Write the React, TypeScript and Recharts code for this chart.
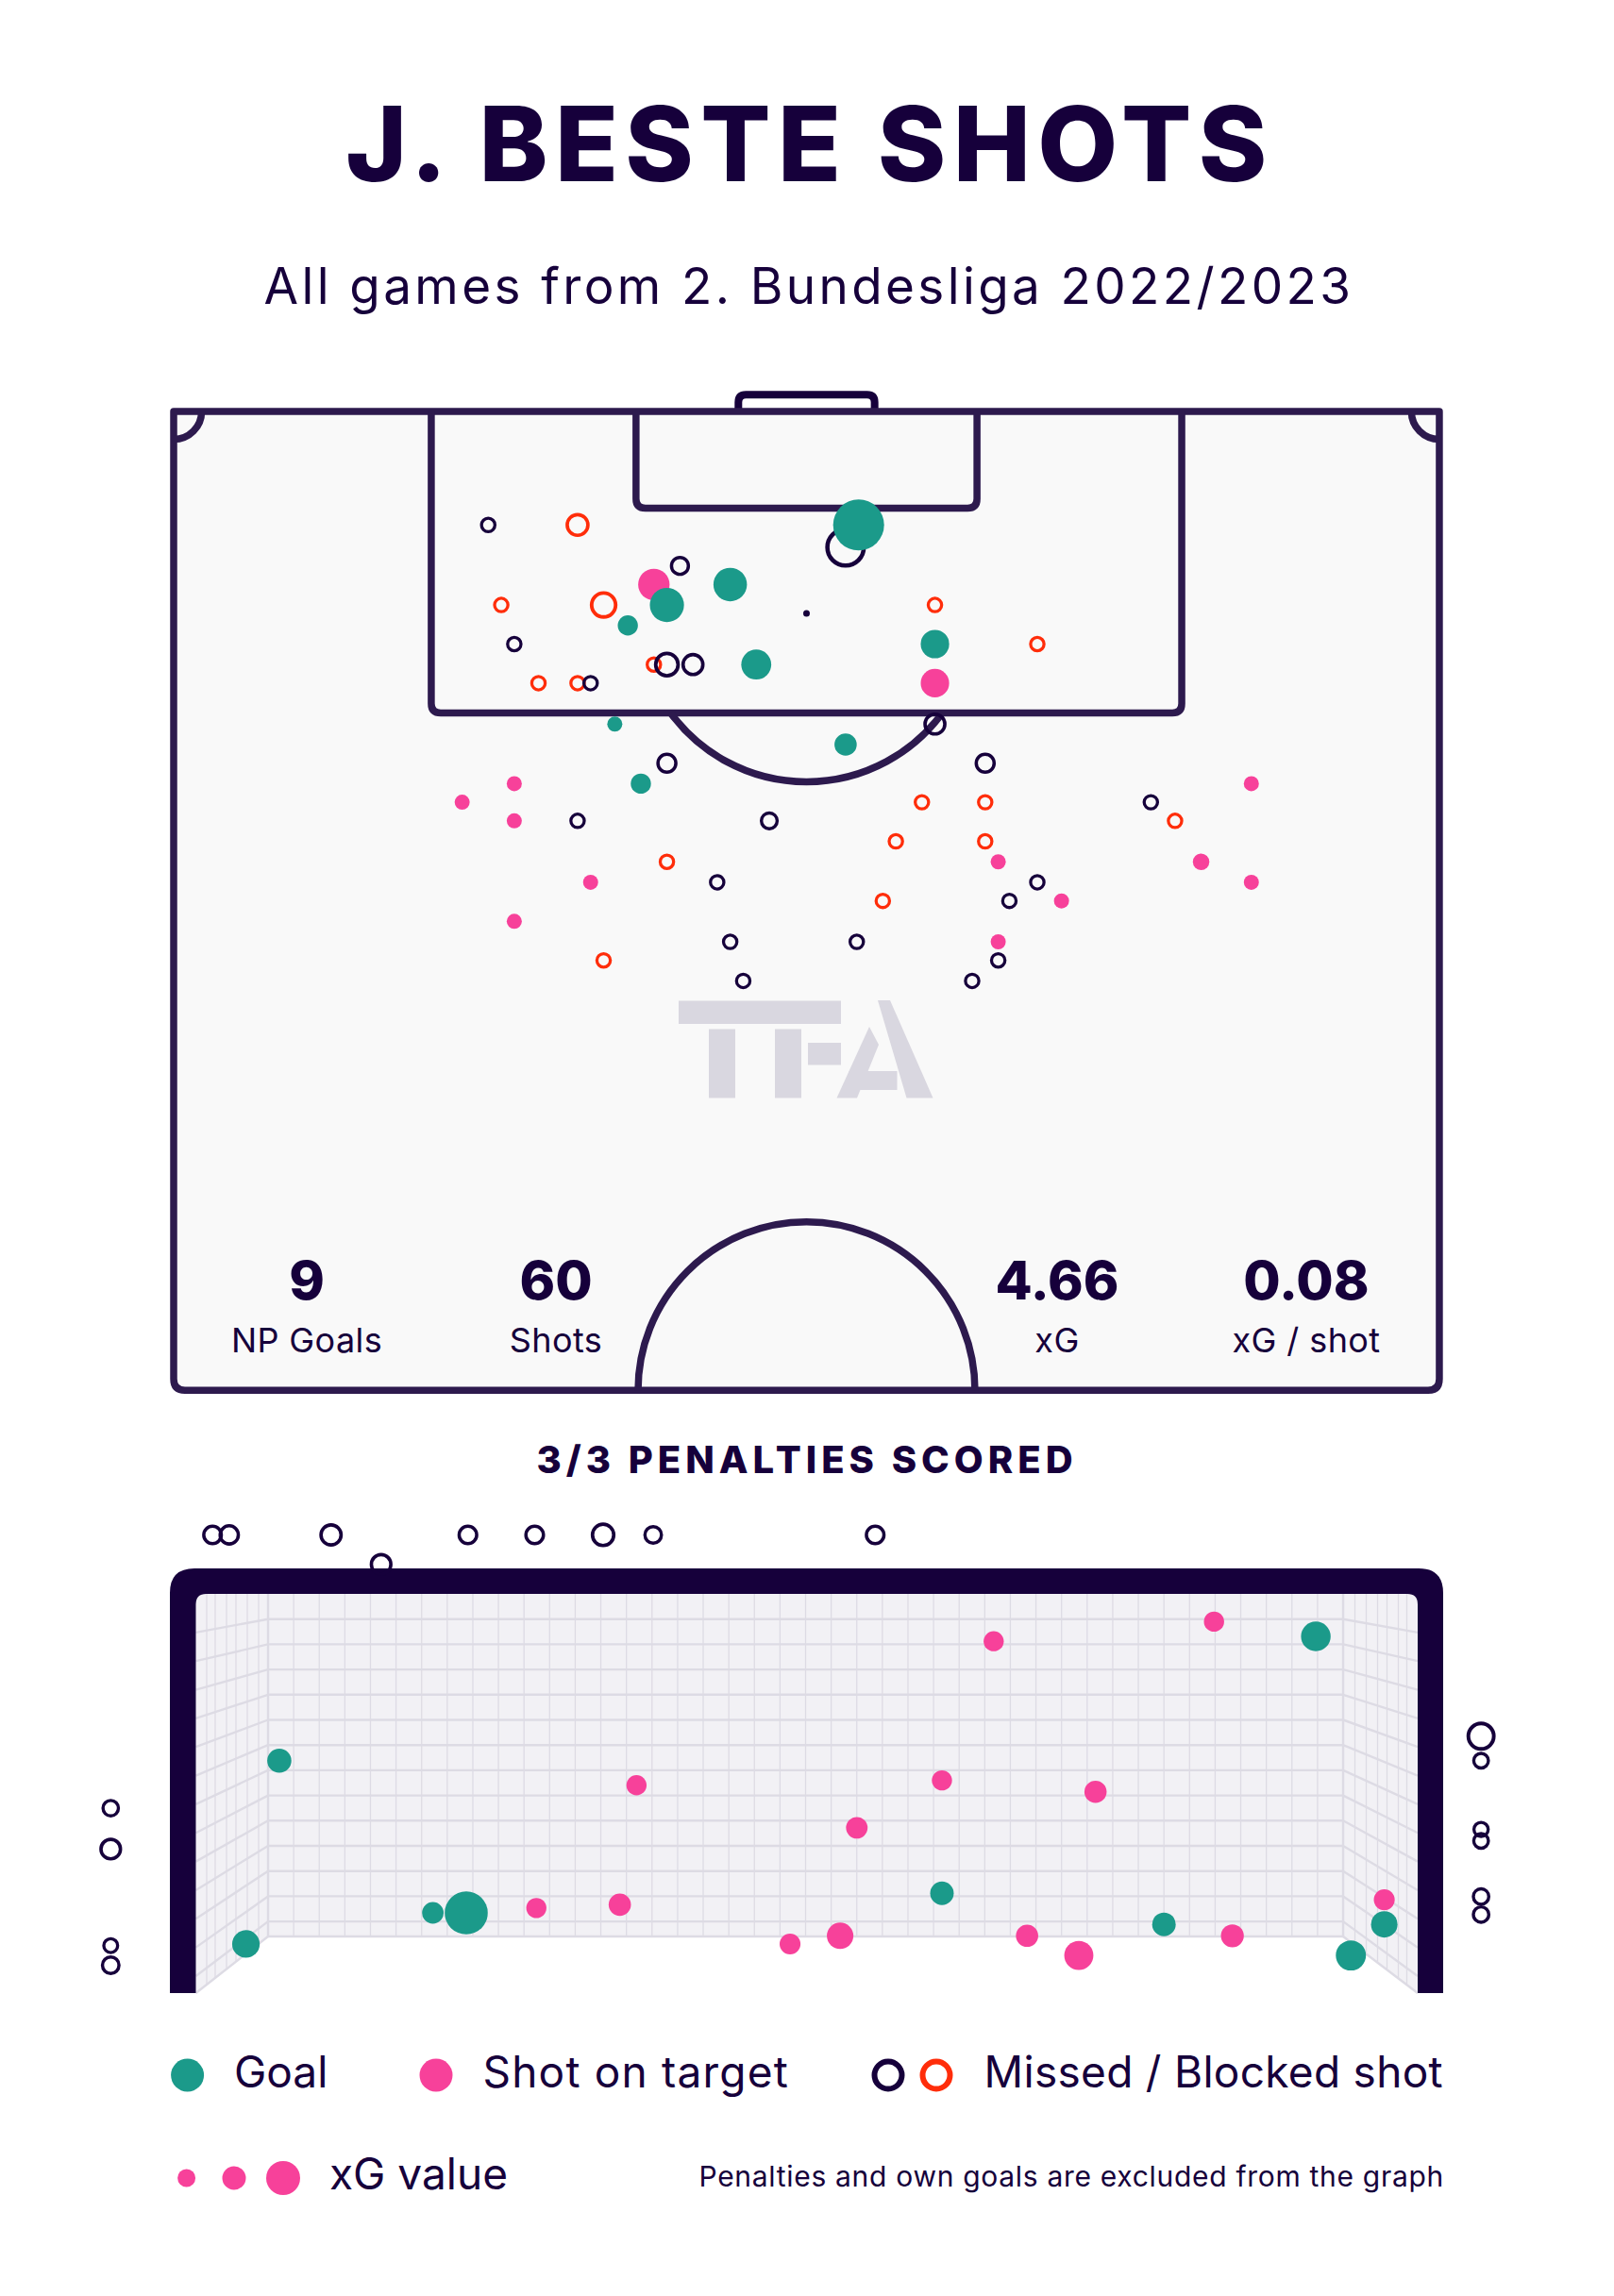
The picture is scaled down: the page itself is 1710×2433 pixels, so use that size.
import React from 'react';
import { ScatterChart, Scatter, XAxis, YAxis, ZAxis, Customized } from 'recharts';

const INK = '#16003b';
const LINE = '#2d1a4e';
const TEAL = '#1b9a8a';
const PINK = '#f7419a';
const RED = '#ff2d0a';
const FONT = "Inter, 'DejaVu Sans', sans-serif";

// shots on the pitch: x across the pitch (m), y out from the goal line (m), xg
const pitchGoals = [
  { x: 36.8, y: 6.1, xg: 0.55 },
  { x: 29.9, y: 9.3, xg: 0.22 },
  { x: 26.5, y: 10.4, xg: 0.23 },
  { x: 24.4, y: 11.5, xg: 0.06 },
  { x: 40.9, y: 12.5, xg: 0.15 },
  { x: 31.3, y: 13.6, xg: 0.17 },
  { x: 23.7, y: 16.8, xg: 0.02 },
  { x: 36.1, y: 17.9, xg: 0.08 },
  { x: 25.1, y: 20.0, xg: 0.06 },
];

const pitchOnTarget = [
  { x: 25.8, y: 9.3, xg: 0.19 },
  { x: 40.9, y: 14.6, xg: 0.15 },
  { x: 18.3, y: 20.0, xg: 0.02 },
  { x: 57.9, y: 20.0, xg: 0.02 },
  { x: 15.5, y: 21.0, xg: 0.02 },
  { x: 18.3, y: 22.0, xg: 0.02 },
  { x: 44.3, y: 24.2, xg: 0.02 },
  { x: 55.2, y: 24.2, xg: 0.03 },
  { x: 22.4, y: 25.3, xg: 0.02 },
  { x: 57.9, y: 25.3, xg: 0.02 },
  { x: 47.7, y: 26.3, xg: 0.02 },
  { x: 18.3, y: 27.4, xg: 0.02 },
  { x: 44.3, y: 28.5, xg: 0.02 },
];

const pitchMissed = [
  { x: 16.9, y: 6.1, xg: 0.03 },
  { x: 36.1, y: 7.3, xg: 0.34 },
  { x: 27.2, y: 8.3, xg: 0.06 },
  { x: 18.3, y: 12.5, xg: 0.03 },
  { x: 26.5, y: 13.6, xg: 0.12 },
  { x: 27.9, y: 13.6, xg: 0.09 },
  { x: 22.4, y: 14.6, xg: 0.03 },
  { x: 40.9, y: 16.8, xg: 0.09 },
  { x: 26.5, y: 18.9, xg: 0.07 },
  { x: 43.6, y: 18.9, xg: 0.07 },
  { x: 52.5, y: 21.0, xg: 0.03 },
  { x: 21.7, y: 22.0, xg: 0.03 },
  { x: 32.0, y: 22.0, xg: 0.05 },
  { x: 29.2, y: 25.3, xg: 0.03 },
  { x: 46.4, y: 25.3, xg: 0.03 },
  { x: 44.9, y: 26.3, xg: 0.03 },
  { x: 29.9, y: 28.5, xg: 0.03 },
  { x: 36.7, y: 28.5, xg: 0.03 },
  { x: 44.3, y: 29.5, xg: 0.03 },
  { x: 30.6, y: 30.6, xg: 0.03 },
  { x: 42.9, y: 30.6, xg: 0.03 },
];

const pitchBlocked = [
  { x: 21.7, y: 6.1, xg: 0.1 },
  { x: 17.6, y: 10.4, xg: 0.03 },
  { x: 23.1, y: 10.4, xg: 0.14 },
  { x: 40.9, y: 10.4, xg: 0.03 },
  { x: 46.4, y: 12.5, xg: 0.03 },
  { x: 25.8, y: 13.6, xg: 0.03 },
  { x: 19.6, y: 14.6, xg: 0.03 },
  { x: 21.7, y: 14.6, xg: 0.03 },
  { x: 40.2, y: 21.0, xg: 0.03 },
  { x: 43.6, y: 21.0, xg: 0.03 },
  { x: 53.8, y: 22.0, xg: 0.03 },
  { x: 38.8, y: 23.1, xg: 0.03 },
  { x: 43.6, y: 23.1, xg: 0.03 },
  { x: 26.5, y: 24.2, xg: 0.03 },
  { x: 38.1, y: 26.3, xg: 0.03 },
  { x: 23.1, y: 29.5, xg: 0.03 },
];

// shots seen from behind the goal: x from the left post (m), y height (m), xg
const goalGoals = [
  { x: 1.62, y: 0.49, xg: 0.55 },
  { x: 0.3, y: 0.3, xg: 0.18 },
  { x: 0.5, y: 1.42, xg: 0.12 },
  { x: 1.42, y: 0.49, xg: 0.08 },
  { x: 4.47, y: 0.61, xg: 0.11 },
  { x: 5.8, y: 0.42, xg: 0.11 },
  { x: 6.71, y: 2.18, xg: 0.22 },
  { x: 6.92, y: 0.23, xg: 0.23 },
  { x: 7.12, y: 0.42, xg: 0.16 },
];

const goalOnTarget = [
  { x: 2.04, y: 0.52, xg: 0.06 },
  { x: 2.54, y: 0.54, xg: 0.09 },
  { x: 2.64, y: 1.27, xg: 0.06 },
  { x: 3.56, y: 0.3, xg: 0.07 },
  { x: 3.86, y: 0.35, xg: 0.16 },
  { x: 3.96, y: 1.01, xg: 0.08 },
  { x: 4.47, y: 1.3, xg: 0.06 },
  { x: 4.78, y: 2.15, xg: 0.06 },
  { x: 4.98, y: 0.35, xg: 0.09 },
  { x: 5.29, y: 0.23, xg: 0.21 },
  { x: 5.39, y: 1.23, xg: 0.09 },
  { x: 6.1, y: 2.27, xg: 0.06 },
  { x: 6.21, y: 0.35, xg: 0.1 },
  { x: 7.12, y: 0.57, xg: 0.07 },
];

const goalMissed = [
  { x: 0.1, y: 2.8, xg: 0.07 },
  { x: 0.2, y: 2.8, xg: 0.08 },
  { x: 0.81, y: 2.8, xg: 0.11 },
  { x: 1.11, y: 2.62, xg: 0.1 },
  { x: 1.63, y: 2.8, xg: 0.07 },
  { x: 2.03, y: 2.8, xg: 0.07 },
  { x: 2.44, y: 2.8, xg: 0.13 },
  { x: 2.74, y: 2.8, xg: 0.055 },
  { x: 4.07, y: 2.8, xg: 0.07 },
  { x: -0.51, y: 1.13, xg: 0.04 },
  { x: -0.51, y: 0.88, xg: 0.1 },
  { x: -0.51, y: 0.29, xg: 0.02 },
  { x: -0.51, y: 0.17, xg: 0.055 },
  { x: 7.7, y: 1.57, xg: 0.21 },
  { x: 7.7, y: 1.42, xg: 0.03 },
  { x: 7.7, y: 1.0, xg: 0.025 },
  { x: 7.7, y: 0.93, xg: 0.03 },
  { x: 7.7, y: 0.59, xg: 0.04 },
  { x: 7.7, y: 0.48, xg: 0.04 },
];

const statValues = ['9', '60', '4.66', '0.08'];
const statLabels = ['NP Goals', 'Shots', 'xG', 'xG / shot'];
const statX = [325, 589, 1120, 1384];

// ---- layout -------------------------------------------------------------
const W = 1710;

// pitch (half), metres -> px
const P_LEFT = 184;
const P_TOP = 436;
const PPM = 19.72;
const P_W = 68;
const P_H = 52.6;
const PITCH_CH = 1500;
const px = (x: number) => P_LEFT + x * PPM;
const py = (y: number) => P_TOP + y * PPM;

// goal view
const G_TOP = 1580;
const G_CH = 560;
const GX0 = 207.5;
const GPX = 176.84;
const GY0 = 2112;
const GPY = 173.4;
const G_XDOM: [number, number] = [-0.6, 7.92];
const G_YDOM: [number, number] = [-0.05, 2.9];

const radiusOf = (p: any) =>
  p.size != null ? Math.sqrt(Math.max(p.size, 0) / Math.PI) : (p.width ?? 16) / 2;

const filled = (color: string) => (p: any) => (
  <circle cx={p.cx} cy={p.cy} r={radiusOf(p)} fill={color} />
);

const ring = (color: string) => (p: any) => {
  const R = radiusOf(p);
  const sw = 2.4 + 0.1 * R;
  return <circle cx={p.cx} cy={p.cy} r={R - sw / 2} fill="none" stroke={color} strokeWidth={sw} />;
};

function PitchLayer() {
  const rb = 12;
  const r = 10;
  const box = (x0: number, x1: number, d: number) =>
    `M${px(x0)},${py(0)} L${px(x0)},${py(d) - r} Q${px(x0)},${py(d)} ${px(x0) + r},${py(d)} ` +
    `L${px(x1) - r},${py(d)} Q${px(x1)},${py(d)} ${px(x1)},${py(d) - r} L${px(x1)},${py(0)}`;
  const outline =
    `M${px(0)},${py(0)} L${px(P_W)},${py(0)} L${px(P_W)},${py(P_H) - rb} ` +
    `Q${px(P_W)},${py(P_H)} ${px(P_W) - rb},${py(P_H)} L${px(0) + rb},${py(P_H)} ` +
    `Q${px(0)},${py(P_H)} ${px(0)},${py(P_H) - rb} Z`;
  const spotY = 10.85;
  const arcR = 9.05;
  const boxD = 16.2;
  const dx = Math.sqrt(arcR * arcR - (boxD - spotY) * (boxD - spotY));
  const cr = 1.5 * PPM;
  const gr = 8;
  const goal =
    `M${px(30.34)},${py(0)} L${px(30.34)},${py(-0.9) + gr} Q${px(30.34)},${py(-0.9)} ${px(30.34) + gr},${py(-0.9)} ` +
    `L${px(37.66) - gr},${py(-0.9)} Q${px(37.66)},${py(-0.9)} ${px(37.66)},${py(-0.9) + gr} L${px(37.66)},${py(0)}`;
  const logo = '#d9d7e0';
  return (
    <g>
      <path d={outline} fill="#f9f9f9" />
      <path d={goal} fill="#ffffff" stroke={INK} strokeWidth={8} strokeLinejoin="round" />
      <g fill={logo}>
        <rect x={719} y={1060.5} width={172} height={24.5} />
        <rect x={751} y={1090.5} width={28} height={73} />
        <rect x={821} y={1090.5} width={28} height={73} />
        <rect x={856} y={1105} width={35} height={23.5} />
        <polygon points="921,1088 931,1107 908,1163.5 886.5,1163.5" />
        <rect x={899.5} y={1135} width={51} height={20} />
        <polygon points="930,1060 943,1060 988.5,1163.5 960.5,1163.5" />
      </g>
      <g fill="none" stroke={LINE} strokeWidth={7.5} strokeLinejoin="round">
        <path d={outline} />
        <path d={box(13.84, 54.16, boxD)} />
        <path d={box(24.84, 43.16, 5.2)} />
        <path d={`M${px(34 - dx)},${py(boxD)} A${arcR * PPM},${arcR * PPM} 0 0 0 ${px(34 + dx)},${py(boxD)}`} />
        <path d={`M${px(34 - arcR)},${py(P_H)} A${arcR * PPM},${arcR * PPM} 0 0 1 ${px(34 + arcR)},${py(P_H)}`} />
        <path d={`M${px(0) + cr},${py(0)} A${cr},${cr} 0 0 1 ${px(0)},${py(0) + cr}`} />
        <path d={`M${px(P_W) - cr},${py(0)} A${cr},${cr} 0 0 0 ${px(P_W)},${py(0) + cr}`} />
      </g>
      <circle cx={px(34)} cy={py(spotY)} r={3.5} fill={INK} />
      {statValues.map((v, i) => (
        <g key={v} fontFamily={FONT} fill={INK} textAnchor="middle">
          <text x={statX[i]} y={1377} fontSize={57} fontWeight={800}>{v}</text>
          <text x={statX[i]} y={1433} fontSize={36} letterSpacing={0.4}>{statLabels[i]}</text>
        </g>
      ))}
    </g>
  );
}

function GoalLayer() {
  const o = (y: number) => y - G_TOP;
  const bl = 284;
  const br = 1423;
  const bb = 2052;
  const fl = 207.5;
  const fr = 1502;
  const vy = 1612;
  const k = 1.1365;
  const rows: number[] = [];
  for (let i = 1; 1689 + 26.7 * i < bb; i++) rows.push(1689 + 26.7 * i);
  const cols: number[] = [];
  for (let i = 0; i <= 42; i++) cols.push(bl + (i * (br - bl)) / 42);
  const sideCols = [219, 228, 240, 250, 262, 274];
  const netFill = '#f2f1f5';
  const net = '#dddbe4';
  const frame =
    `M180,${o(2112)} L180,${o(1688)} Q180,${o(1662)} 206,${o(1662)} L1503,${o(1662)} Q1529,${o(1662)} 1529,${o(1688)} ` +
    `L1529,${o(2112)} L${fr},${o(2112)} L${fr},${o(1700)} Q${fr},${o(1689)} ${fr - 11},${o(1689)} ` +
    `L${fl + 11},${o(1689)} Q${fl},${o(1689)} ${fl},${o(1700)} L${fl},${o(2112)} Z`;
  return (
    <g>
      <rect x={bl} y={o(1680)} width={br - bl} height={bb - 1680} fill={netFill} />
      <polygon points={`${fl},${o(1689)} ${bl},${o(1689)} ${bl},${o(bb)} ${fl},${o(2112)}`} fill={netFill} />
      <polygon points={`${fr},${o(1689)} ${br},${o(1689)} ${br},${o(bb)} ${fr},${o(2112)}`} fill={netFill} />
      <g stroke={net} strokeWidth={1.3}>
        {cols.map((x) => (
          <line key={`c${x}`} x1={x} x2={x} y1={o(1689)} y2={o(bb)} />
        ))}
        {sideCols.map((x) => (
          <g key={`s${x}`}>
            <line x1={x} x2={x} y1={o(1689)} y2={o(2112 - (60 * (x - fl)) / (bl - fl))} />
            <line x1={fl + fr - x} x2={fl + fr - x} y1={o(1689)} y2={o(2112 - (60 * (x - fl)) / (bl - fl))} />
          </g>
        ))}
      </g>
      <g stroke={net} strokeWidth={2.4}>
        {rows.map((y) => (
          <g key={`r${y}`}>
            <line x1={bl} x2={br} y1={o(y)} y2={o(y)} />
            <line x1={bl} x2={fl} y1={o(y)} y2={o(vy + (y - vy) * k)} />
            <line x1={br} x2={fr} y1={o(y)} y2={o(vy + (y - vy) * k)} />
          </g>
        ))}
        <line x1={bl} x2={br} y1={o(bb)} y2={o(bb)} />
        <line x1={bl} x2={fl} y1={o(bb)} y2={o(2112)} />
        <line x1={br} x2={fr} y1={o(bb)} y2={o(2112)} />
        <line x1={bl} x2={bl} y1={o(1689)} y2={o(bb)} />
        <line x1={br} x2={br} y1={o(1689)} y2={o(bb)} />
      </g>
      <path d={frame} fill={INK} />
    </g>
  );
}

export default function App() {
  const gLeft = GX0 + G_XDOM[0] * GPX;
  const gRight = GX0 + G_XDOM[1] * GPX;
  const gTopPx = GY0 - G_YDOM[1] * GPY;
  const gBotPx = GY0 - G_YDOM[0] * GPY;
  return (
    <div style={{ position: 'absolute', left: 0, top: 0, width: W, height: 2433, background: '#ffffff', overflow: 'hidden' }}>
      <div style={{ position: 'absolute', left: 0, top: 0 }}>
        <ScatterChart
          width={W}
          height={PITCH_CH}
          margin={{ top: P_TOP, left: P_LEFT, right: W - px(P_W), bottom: PITCH_CH - py(P_H) }}
        >
          <XAxis type="number" dataKey="x" domain={[0, P_W]} hide />
          <YAxis type="number" dataKey="y" domain={[0, P_H]} reversed hide />
          <ZAxis type="number" dataKey="xg" domain={[0, 0.6]} range={[122, 2487]} />
          <Customized component={PitchLayer} />
          <Scatter data={pitchBlocked} shape={ring(RED)} isAnimationActive={false} />
          <Scatter data={pitchMissed} shape={ring(INK)} isAnimationActive={false} />
          <Scatter data={pitchOnTarget} shape={filled(PINK)} isAnimationActive={false} />
          <Scatter data={pitchGoals} shape={filled(TEAL)} isAnimationActive={false} />
        </ScatterChart>
      </div>
      <div style={{ position: 'absolute', left: 0, top: G_TOP }}>
        <ScatterChart
          width={W}
          height={G_CH}
          margin={{ top: gTopPx - G_TOP, left: gLeft, right: W - gRight, bottom: G_TOP + G_CH - gBotPx }}
        >
          <XAxis type="number" dataKey="x" domain={G_XDOM} hide />
          <YAxis type="number" dataKey="y" domain={G_YDOM} hide />
          <ZAxis type="number" dataKey="xg" domain={[0, 0.6]} range={[202, 1763]} />
          <Customized component={GoalLayer} />
          <Scatter data={goalMissed} shape={ring(INK)} isAnimationActive={false} />
          <Scatter data={goalOnTarget} shape={filled(PINK)} isAnimationActive={false} />
          <Scatter data={goalGoals} shape={filled(TEAL)} isAnimationActive={false} />
        </ScatterChart>
      </div>
      <svg width={W} height={2433} style={{ position: 'absolute', left: 0, top: 0, pointerEvents: 'none' }}>
        <g fontFamily={FONT} fill={INK}>
          <text x={858} y={192} fontSize={110} fontWeight={800} textAnchor="middle" letterSpacing={7.3}>
            J. BESTE SHOTS
          </text>
          <text x={857} y={322} fontSize={53} textAnchor="middle" letterSpacing={3.4}>
            All games from 2. Bundesliga 2022/2023
          </text>
          <text x={855} y={1561} fontSize={40} fontWeight={800} textAnchor="middle" letterSpacing={5}>
            3/3 PENALTIES SCORED
          </text>
          <circle cx={198.6} cy={2199} r={17.5} fill={TEAL} />
          <text x={248} y={2212} fontSize={46}>Goal</text>
          <circle cx={462} cy={2199} r={17.5} fill={PINK} />
          <text x={511.5} y={2212} fontSize={46} letterSpacing={1.2}>Shot on target</text>
          <circle cx={941} cy={2199} r={14.5} fill="none" stroke={INK} strokeWidth={6} />
          <circle cx={992} cy={2199} r={14.5} fill="none" stroke={RED} strokeWidth={6} />
          <text x={1042.6} y={2212} fontSize={46} letterSpacing={0.3}>Missed / Blocked shot</text>
          <circle cx={197.6} cy={2308} r={9.5} fill={PINK} />
          <circle cx={248} cy={2308} r={12.5} fill={PINK} />
          <circle cx={300} cy={2308} r={18} fill={PINK} />
          <text x={349} y={2320} fontSize={46}>xG value</text>
          <text x={1530} y={2317} fontSize={30} textAnchor="end" letterSpacing={0.7}>
            Penalties and own goals are excluded from the graph
          </text>
        </g>
      </svg>
    </div>
  );
}
